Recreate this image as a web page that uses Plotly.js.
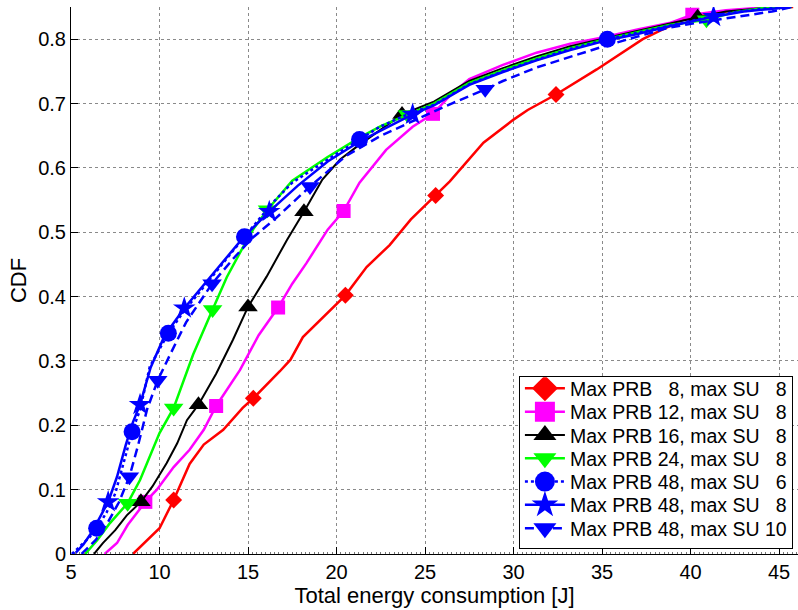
<!DOCTYPE html>
<html>
<head>
<meta charset="utf-8">
<script src="https://cdn.plot.ly/plotly-3.0.1.min.js"></script>
<style>html,body{margin:0;padding:0;background:#fff;}#chart{width:798px;height:610px;}</style>
</head>
<body>
<div id="chart"></div>
<script>
// ---- data ----
const seriesNames = [
  "Max PRB \u20078, max SU \u20078",
  "Max PRB 12, max SU \u20078",
  "Max PRB 16, max SU \u20078",
  "Max PRB 24, max SU \u20078",
  "Max PRB 48, max SU \u20076",
  "Max PRB 48, max SU \u20078",
  "Max PRB 48, max SU 10"
];

const prb8X = [8.5, 9.3, 10.0, 10.8, 11.7, 12.5, 13.6, 14.7, 15.3, 16.8, 17.4, 18.1, 19.5, 20.5, 21.7, 23.0, 24.2, 25.6, 26.4, 28.3, 30.0, 30.8, 32.4, 34.7, 35.8, 37.3, 38.4, 39.6, 40.5, 42.5, 44.5, 45.8];
const prb8Y = [0, 0.022, 0.04, 0.084, 0.14, 0.17, 0.193, 0.227, 0.242, 0.284, 0.302, 0.337, 0.375, 0.402, 0.446, 0.48, 0.52, 0.557, 0.579, 0.639, 0.675, 0.69, 0.714, 0.753, 0.773, 0.80, 0.815, 0.83, 0.837, 0.845, 0.849, 0.85];
const prb8Marks = [3, 8, 13, 17, 22];

const prb12X = [6.9, 7.6, 8.2, 9.2, 9.85, 10.8, 11.7, 12.5, 13.2, 14.55, 15.6, 16.7, 17.5, 18.3, 19.5, 20.4, 21.3, 22.8, 24.3, 25.45, 26.5, 27.5, 29.4, 31.3, 33.2, 35.1, 37.0, 38.8, 40.1, 42, 44, 45.6];
const prb12Y = [0, 0.017, 0.045, 0.081, 0.1, 0.135, 0.162, 0.193, 0.23, 0.286, 0.34, 0.383, 0.42, 0.452, 0.504, 0.533, 0.577, 0.628, 0.664, 0.684, 0.715, 0.738, 0.76, 0.779, 0.793, 0.803, 0.815, 0.825, 0.838, 0.845, 0.849, 0.85];
const prb12Marks = [3, 8, 11, 15, 19, 28];

const prb16X = [6.3, 6.8, 7.5, 8.15, 8.95, 9.6, 10.4, 11.0, 11.55, 12.2, 13.2, 14.15, 15.0, 16.05, 17.2, 18.16, 19.2, 20.2, 21.15, 22.3, 23.7, 25.5, 27.5, 29.4, 31.3, 33.2, 35.1, 37.0, 38.8, 40.4, 42, 44, 45.7];
const prb16Y = [0, 0.017, 0.037, 0.06, 0.081, 0.105, 0.141, 0.172, 0.208, 0.232, 0.28, 0.333, 0.384, 0.431, 0.488, 0.532, 0.582, 0.613, 0.633, 0.655, 0.683, 0.703, 0.735, 0.755, 0.773, 0.789, 0.801, 0.813, 0.824, 0.834, 0.843, 0.848, 0.85];
const prb16Marks = [4, 9, 12, 15, 20, 29];

const prb24X = [5.8, 6.5, 7.2, 8.2, 8.9, 9.46, 10.0, 10.8, 11.9, 13.0, 13.8, 14.64, 15.3, 16.1, 17.5, 19.5, 21.3, 22.5, 24.0, 25.5, 27.5, 29.4, 31.3, 33.2, 35.1, 37.0, 38.8, 40.9, 42.5, 44, 45.7];
const prb24Y = [0, 0.022, 0.048, 0.079, 0.115, 0.151, 0.188, 0.227, 0.31, 0.38, 0.43, 0.473, 0.505, 0.535, 0.58, 0.617, 0.647, 0.665, 0.683, 0.7, 0.732, 0.752, 0.77, 0.786, 0.799, 0.811, 0.822, 0.83, 0.842, 0.848, 0.85];
const prb24Marks = [3, 7, 9, 13, 18, 27];

const su6X = [5.05, 5.5, 6.05, 6.45, 7.0, 7.5, 7.9, 8.45, 8.9, 9.45, 10.5, 11.4, 12.5, 13.4, 14.8, 16.4, 17.5, 19.5, 21.3, 22.45, 24.0, 25.5, 27.5, 29.4, 31.3, 33.2, 35.3, 37.0, 38.8, 40.3, 42, 44, 45.7];
const su6Y = [0, 0.011, 0.026, 0.04, 0.064, 0.094, 0.136, 0.19, 0.224, 0.291, 0.343, 0.378, 0.415, 0.446, 0.493, 0.546, 0.577, 0.613, 0.644, 0.664, 0.683, 0.698, 0.73, 0.75, 0.768, 0.785, 0.80, 0.81, 0.821, 0.83, 0.84, 0.847, 0.85];
const su6Marks = [3, 7, 10, 14, 18, 26];

const su8X = [5.2, 5.7, 6.2, 6.6, 7.1, 7.6, 8.1, 8.5, 8.9, 9.5, 10.3, 11.4, 12.5, 13.6, 14.8, 16.2, 17.8, 19.5, 21.3, 22.8, 24.3, 25.5, 27.5, 29.4, 31.3, 33.2, 35.1, 37.0, 38.8, 41.3, 43, 45.7];
const su8Y = [0, 0.015, 0.035, 0.055, 0.081, 0.12, 0.17, 0.205, 0.232, 0.29, 0.34, 0.382, 0.418, 0.455, 0.494, 0.532, 0.572, 0.61, 0.641, 0.662, 0.683, 0.697, 0.729, 0.749, 0.767, 0.783, 0.797, 0.808, 0.82, 0.835, 0.843, 0.85];
const su8Marks = [4, 8, 11, 15, 20, 29];

const su10X = [5.6, 6.4, 7.1, 7.7, 8.3, 8.8, 9.3, 9.9, 10.6, 11.5, 12.97, 14.2, 15.2, 16.5, 18.5, 20.5, 22.5, 24.5, 26.5, 28.4, 29.4, 31.3, 33.2, 35.1, 37.0, 38.8, 40.5, 42.2, 43.5, 44.6, 45.6];
const su10Y = [0, 0.022, 0.05, 0.08, 0.12, 0.17, 0.225, 0.27, 0.31, 0.36, 0.42, 0.46, 0.49, 0.52, 0.571, 0.618, 0.65, 0.675, 0.70, 0.722, 0.735, 0.756, 0.773, 0.789, 0.804, 0.818, 0.826, 0.833, 0.838, 0.843, 0.849];
const su10Marks = [4, 7, 10, 14, 19];

const xTicks = [5, 10, 15, 20, 25, 30, 35, 40, 45];
const yTicks = [0, 0.1, 0.2, 0.3, 0.4, 0.5, 0.6, 0.7, 0.8];
const yTickText = ["0", "0.1", "0.2", "0.3", "0.4", "0.5", "0.6", "0.7", "0.8"];

// ---- styles ----
const styles = [
  {color: "#FF0000", dash: "solid", width: 2.5, symbol: "diamond", size: 13},
  {color: "#FF00FF", dash: "solid", width: 2.5, symbol: "square", size: 14},
  {color: "#000000", dash: "solid", width: 2, symbol: "triangle-up", size: 17},
  {color: "#00FF00", dash: "solid", width: 2.5, symbol: "triangle-down", size: 17},
  {color: "#0000FF", dash: "dot", width: 2.5, symbol: "circle", size: 17},
  {color: "#0000FF", dash: "solid", width: 2.5, symbol: "star", size: 17},
  {color: "#0000FF", dash: "9px,5px", width: 2.5, symbol: "triangle-down", size: 17}
];
const allX = [prb8X, prb12X, prb16X, prb24X, su6X, su8X, su10X];
const allY = [prb8Y, prb12Y, prb16Y, prb24Y, su6Y, su8Y, su10Y];
const allMarks = [prb8Marks, prb12Marks, prb16Marks, prb24Marks, su6Marks, su8Marks, su10Marks];

const traces = [];
allX.forEach((xs, i) => {
  const s = styles[i];
  traces.push({
    x: xs, y: allY[i], type: "scatter", mode: "lines",
    line: {color: s.color, width: s.width, dash: s.dash},
    showlegend: false, hoverinfo: "skip"
  });
  traces.push({
    x: allMarks[i].map(k => xs[k]), y: allMarks[i].map(k => allY[i][k]),
    type: "scatter", mode: "markers",
    marker: {color: s.color, symbol: s.symbol, size: s.size, line: {width: 0}},
    showlegend: false, hoverinfo: "skip"
  });
});
// legend entries
seriesNames.forEach((name, i) => {
  const s = styles[i];
  traces.push({
    x: [null], y: [null], type: "scatter", mode: "lines+markers", name: name,
    line: {color: s.color, width: s.width, dash: s.dash},
    marker: {color: s.color, symbol: s.symbol, size: 16, line: {width: 0}}
  });
});

const fontFam = "Liberation Sans, Arial, Helvetica, sans-serif";
const layout = {
  width: 798, height: 610,
  margin: {l: 71, r: 0, t: 7, b: 56, pad: 0},
  paper_bgcolor: "#fff", plot_bgcolor: "#fff",
  font: {family: fontFam, size: 20, color: "#000"},
  showlegend: true,
  legend: {
    x: 0.993, y: 0.013, xanchor: "right", yanchor: "bottom",
    bgcolor: "#fff", bordercolor: "#000", borderwidth: 1,
    font: {family: fontFam, size: 19.5, color: "#000"},
    itemwidth: 40, tracegroupgap: 0
  },
  xaxis: {
    range: [5, 46.07], tickvals: xTicks, ticktext: xTicks.map(String),
    ticks: "inside", ticklen: 7, tickcolor: "#000", tickwidth: 1,
    showline: true, linecolor: "#000", linewidth: 1, mirror: false,
    showgrid: true, gridcolor: "#8a8a8a", griddash: "dot", gridwidth: 1,
    zeroline: false,
    minor: {dtick: 0.25, ticks: "inside", ticklen: 2, tickcolor: "#777", showgrid: false},
    title: {text: "Total energy consumption [J]", font: {size: 22}, standoff: 3},
    tickfont: {size: 20}
  },
  yaxis: {
    range: [0, 0.85], tickvals: yTicks, ticktext: yTickText,
    ticks: "inside", ticklen: 7, tickcolor: "#000", tickwidth: 1,
    showline: true, linecolor: "#000", linewidth: 1, mirror: false,
    showgrid: true, gridcolor: "#8a8a8a", griddash: "dot", gridwidth: 1,
    zeroline: false,
    title: {text: "CDF", font: {size: 22}, standoff: 5},
    tickfont: {size: 20}
  }
};

const gd = document.getElementById("chart");
Plotly.newPlot(gd, traces, layout, {displayModeBar: false, staticPlot: true}).then(() => {
  // tighten legend row spacing and enlarge legend symbols to match the reference
  const leg = gd.querySelector("g.legend");
  if (!leg) return;
  const items = Array.from(leg.querySelectorAll("g.traces"));
  const parse = t => {
    const m = /translate\(\s*([-\d.e]+)[\s,]+([-\d.e]+)\s*\)/.exec(t || "");
    return m ? [parseFloat(m[1]), parseFloat(m[2])] : [0, 0];
  };
  if (items.length < 2) return;
  const p0 = parse(items[0].getAttribute("transform"));
  const p1 = parse(items[1].getAttribute("transform"));
  const oldStep = p1[1] - p0[1];
  const step = 23.3;
  const topTrim = 8;
  items.forEach((el, i) => {
    const p = parse(el.getAttribute("transform"));
    el.setAttribute("transform", "translate(" + p[0] + "," + (p0[1] - topTrim + i * step) + ")");
    el.querySelectorAll("g.legendpoints path.scatterpts").forEach(pt => {
      pt.setAttribute("transform", (pt.getAttribute("transform") || "") + " scale(1.25)");
    });
  });
  const delta = (items.length - 1) * (oldStep - step);
  const bg = leg.querySelector("rect.bg");
  if (bg) bg.setAttribute("height", parseFloat(bg.getAttribute("height")) - delta - topTrim);
  const lp = parse(leg.getAttribute("transform"));
  leg.setAttribute("transform", "translate(" + lp[0] + "," + (lp[1] + delta + topTrim + 2) + ")");
});
</script>
</body>
</html>
